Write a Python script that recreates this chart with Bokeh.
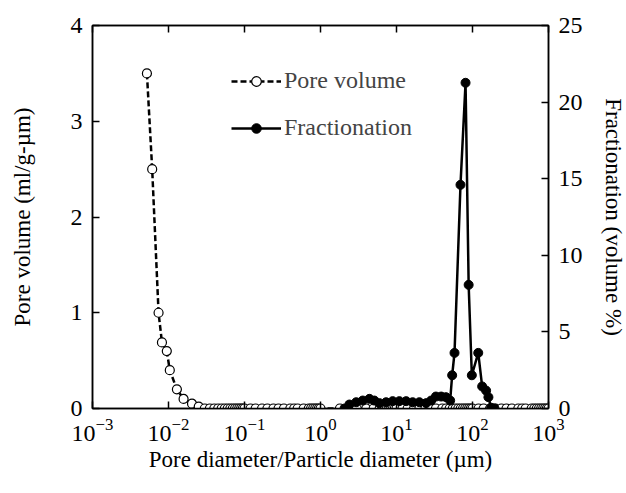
from bokeh.plotting import figure
from bokeh.models import LinearAxis, LogAxis, Range1d, Legend, LegendItem, FixedTicker
from bokeh.embed import file_html
from bokeh.resources import INLINE

# Pore volume (left axis, ml/g-um)
pv_x = [0.0052, 0.0061, 0.0074, 0.0082, 0.0095, 0.0104, 0.0129, 0.0158, 0.0204, 0.025,
        0.03, 0.035, 0.04, 0.045, 0.05, 0.055, 0.06, 0.065, 0.07, 0.075, 0.08, 0.085, 0.09, 0.095, 0.1,
        0.12, 0.14, 0.17, 0.2, 0.24, 0.28, 0.33, 0.4, 0.45, 0.5, 0.6, 0.7, 0.75, 0.8, 0.85, 0.9, 0.95,
        1.0, 1.8, 2.5, 3.0, 4.0, 5.0, 6.0, 6.5, 7.0, 7.5, 8.0, 8.5, 9.0, 9.5, 10.0,
        12, 14, 17, 20, 24, 28, 33, 40, 45, 50, 55, 60, 65, 70, 75, 80, 85, 90, 95, 100,
        120, 140, 170, 200, 240, 280, 330, 400, 450, 500, 600, 650, 700, 750, 800, 850, 900, 950, 1000]
pv_y = [3.50, 2.50, 1.00, 0.69, 0.60, 0.40, 0.20, 0.10, 0.05, 0.02] + [0.0] * (len(pv_x) - 10)

# Fractionation (right axis, volume %)
fr_x = [2.07, 2.4, 2.95, 3.6, 4.4, 5.1, 5.97, 7.3, 8.9, 10.9, 13.4, 16.3, 20, 24.5, 28.6, 33, 38.7,
        44.7, 50.8, 54, 58, 69.5, 81, 89, 98, 119, 134, 151, 162, 176, 195]
fr_y = [0.0, 0.26, 0.41, 0.52, 0.63, 0.52, 0.35, 0.41, 0.48, 0.48, 0.48, 0.41, 0.41, 0.35, 0.52, 0.78, 0.78,
        0.74, 0.52, 2.17, 3.63, 14.6, 21.26, 8.07, 2.17, 3.63, 1.44, 1.17, 0.74, 0.05, 0.0]

x_ticks = [0.001, 0.01, 0.1, 1, 10, 100, 1000]
left_ticks = [0, 1, 2, 3, 4]
right_ticks = [0, 5, 10, 15, 20, 25]

FONT = "Liberation Serif"

p = figure(frame_width=456, frame_height=383, x_axis_type="log", x_range=Range1d(1e-3, 1e3),
           y_range=Range1d(0, 4), output_backend="svg", toolbar_location=None,
           min_border_left=92, min_border_right=60, min_border_top=25, min_border_bottom=70)
p.extra_y_ranges = {"right": Range1d(0, 25)}
p.grid.visible = False
p.outline_line_color = "black"
p.outline_line_width = 1.5

def style(ax):
    ax.major_tick_in = 7
    ax.major_tick_out = 0
    ax.minor_tick_line_color = None
    ax.axis_line_color = "black"
    ax.axis_line_width = 1.5
    ax.major_tick_line_width = 1.5
    ax.major_label_text_font = FONT
    ax.major_label_text_font_size = "24px"
    ax.major_label_text_color = "black"
    ax.axis_label_text_font = FONT
    ax.axis_label_text_font_size = "23px"
    ax.axis_label_text_font_style = "normal"
    ax.axis_label_text_color = "black"
    ax.major_label_standoff = 10

xa = p.xaxis[0]
xa.ticker = FixedTicker(ticks=x_ticks)
xa.axis_label = "Pore diameter/Particle diameter (\u00b5m)"
style(xa)
xa.axis_label_standoff = 3

ya = p.yaxis[0]
ya.ticker = FixedTicker(ticks=left_ticks)
ya.axis_label = "Pore volume (ml/g-\u00b5m)"
style(ya)
ya.axis_label_standoff = 33

ra = LinearAxis(y_range_name="right", ticker=FixedTicker(ticks=right_ticks),
                axis_label="Fractionation (volume %)")
style(ra)
ra.axis_label_standoff = 15
p.add_layout(ra, "right")

ta = LogAxis(ticker=FixedTicker(ticks=x_ticks))
style(ta)
ta.major_label_text_font_size = "1px"
ta.major_label_text_alpha = 0
ta.major_label_standoff = 0
p.add_layout(ta, "above")

l1 = p.line(pv_x, pv_y, line_color="black", line_width=2.5, line_dash="6 3")
c1 = p.scatter(pv_x, pv_y, marker="circle", size=9, fill_color="white", line_color="black", line_width=1.2)
l2 = p.line(fr_x, fr_y, line_color="black", line_width=2.5, y_range_name="right")
c2 = p.scatter(fr_x, fr_y, marker="circle", size=9, fill_color="black", line_color="black",
               y_range_name="right")

legend = Legend(items=[LegendItem(label="Pore volume", renderers=[l1, c1]),
                       LegendItem(label="Fractionation", renderers=[l2, c2])],
                location=(139, 267), padding=0, margin=0, spacing=20,
                glyph_width=50, glyph_height=24, label_height=24,
                label_standoff=3, background_fill_alpha=0, border_line_color=None,
                label_text_font=FONT, label_text_font_size="24px")
p.add_layout(legend, "center")

open("out.html", "w").write(file_html(p, INLINE))
